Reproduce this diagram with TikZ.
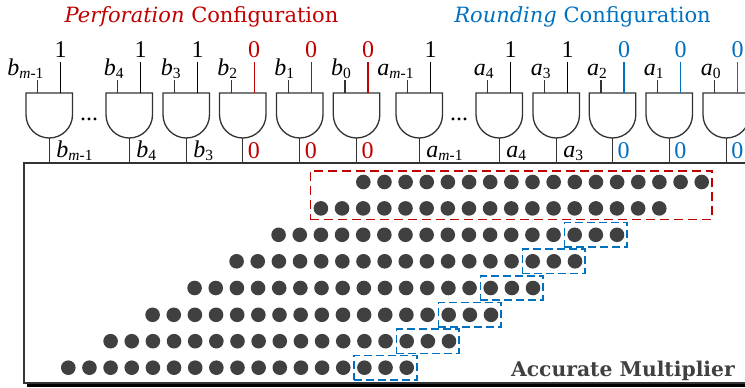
\documentclass[tikz,border=0pt]{standalone}
\usepackage{fontspec}
\setmainfont{Liberation Serif}
\newfontfamily\slabfont{DejaVu Serif}
\usetikzlibrary{positioning, fit, shadows}
\definecolor{perfred}{RGB}{192, 0, 0}
\definecolor{roundblue}{RGB}{0, 112, 192}
\definecolor{wiregray}{RGB}{51, 51, 51}
\definecolor{dotgray}{RGB}{64, 64, 64}
\newcommand{\wirelab}[2]{\textit{#1}\raisebox{-3.5pt}{\fontsize{15.5}{15.5}\selectfont #2}}
\tikzset{
  wire/.style={draw=wiregray, line width=1.3pt},
  bitlab/.style={inner sep=0pt, font=\fontsize{24}{24}\selectfont},
  titlelab/.style={inner sep=0pt, font=\slabfont\fontsize{21}{24}\selectfont},
  dot/.style={circle, fill=dotgray, inner sep=0pt, minimum size=14.6pt},
  perfbox/.style={draw=perfred, line width=1.7pt, dash pattern=on 9pt off 5pt, inner xsep=3pt, inner ysep=3.7pt},
  roundbox/.style={draw=roundblue, line width=1.7pt, dash pattern=on 8pt off 4pt, inner xsep=2.8pt, inner ysep=4.7pt},
  multbox/.style={rectangle, draw=wiregray, fill=white, line width=1.5pt, minimum width=746pt, minimum height=220pt, inner sep=0pt,
    drop shadow={shadow xshift=3pt, shadow yshift=-3.5pt, fill=black, opacity=1}},
  andgate/.pic={
    \draw [wire, fill=white] (0,0) -- (46.5,0) -- (46.5,21.75) arc[start angle=0, end angle=180, radius=23.25] -- cycle;
    \coordinate (-ina) at (11.7,0);
    \coordinate (-inb) at (34.7,0);
    \coordinate (-tipa) at (11.7,-13);
    \coordinate (-tipb) at (34.7,-31);
    \coordinate (-out) at (23.25,45);
  }
}
\begin{document}
\begin{tikzpicture}[x=1pt, y=-1pt]
\clip (0,0) rectangle (745,388);

\node (mult) [multbox] at (397,273) {};
\node (multname) [inner sep=0pt, anchor=base east, text=dotgray, font=\slabfont\bfseries\fontsize{20.3}{22}\selectfont] at (735,376) {Accurate Multiplier};

\node (perftitle) [titlelab, anchor=base, text=perfred] at (201.5,22) {\textit{Perforation} Configuration};
\node (roundtitle) [titlelab, anchor=base, text=roundblue] at (582.5,22) {\textit{Rounding} Configuration};

% Gates
\foreach \n/\gx/\inlab/\outlab/\bitval/\bitcol in {
  bm/26/{\wirelab{b}{\textit{m}-1}}/{\wirelab{b}{\textit{m}-1}}/1/black,
  bd/106/{\wirelab{b}{4}}/{\wirelab{b}{4}}/1/black,
  bc/163/{\wirelab{b}{3}}/{\wirelab{b}{3}}/1/black,
  bb/219.5/{\wirelab{b}{2}}//0/perfred,
  ba/276.5/{\wirelab{b}{1}}//0/perfred,
  bz/333.3/{\wirelab{b}{0}}//0/perfred,
  am/396/{\wirelab{a}{\textit{m}-1}}/{\wirelab{a}{\textit{m}-1}}/1/black,
  ad/476/{\wirelab{a}{4}}/{\wirelab{a}{4}}/1/black,
  ac/533/{\wirelab{a}{3}}/{\wirelab{a}{3}}/1/black,
  ab/589.3/{\wirelab{a}{2}}//0/roundblue,
  aa/646/{\wirelab{a}{1}}//0/roundblue,
  az/703/{\wirelab{a}{0}}//0/roundblue}{
  \pic (g\n) at (\gx,93) {andgate};
  \draw [wire] (g\n-out) -- (g\n-out |- mult.north);
  \node (in\n) [bitlab, anchor=base east, xshift=6pt, yshift=5pt] at (g\n-tipa) {\inlab};
  \node (top\n) [bitlab, anchor=base, text=\bitcol, yshift=5pt] at (g\n-tipb) {\bitval};
  \draw [wire] (g\n-ina) -- (g\n-tipa);
  \draw [wire, draw=\bitcol, line width=1.1pt] (g\n-inb) -- (g\n-tipb);
  \node (out\n) [bitlab, anchor=base west, xshift=7pt, yshift=-19pt] at (g\n-out) {\outlab};
  \ifx\outlab\empty
    \node (val\n) [bitlab, anchor=base, text=\bitcol, xshift=11pt, yshift=-20pt] at (g\n-out) {\bitval};
  \fi
}
\node (dotsb) [bitlab, anchor=base] at (89,120) {...};
\node (dotsa) [bitlab, anchor=base] at (459,120) {...};

% Partial products
\foreach \r/\lastx/\y in {1/701.7/182, 2/659.3/208.4, 3/617/234.8, 4/575/261.3, 5/533/288, 6/491/314.8, 7/449/341.2, 8/406.7/367.7}{
  \foreach \c in {1,...,17}{
    \pgfmathsetmacro{\dotx}{\lastx-(17-\c)*21.15}
    \node (d\r-\c) [dot] at (\dotx,\y) {};
  }
}

\node (perfgroup) [perfbox, fit=(d1-17)(d2-1)] {};
\foreach \r in {3,...,8}{
  \node (round\r) [roundbox, fit=(d\r-15)(d\r-17)] {};
}

\end{tikzpicture}
\end{document}
